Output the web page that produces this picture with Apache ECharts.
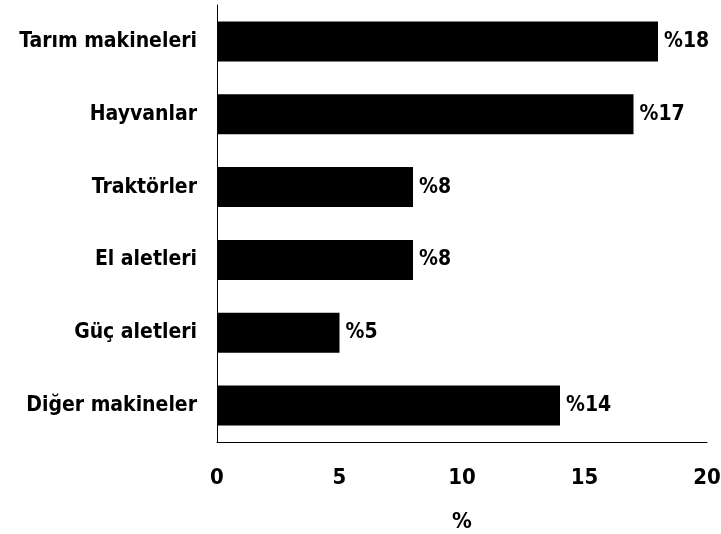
<!DOCTYPE html>
<html><head><meta charset="utf-8">
<script src="https://cdn.jsdelivr.net/npm/echarts@6/dist/echarts.min.js"></script>
<style>html,body{margin:0;padding:0;background:#fff}#c{width:721px;height:534px}</style>
</head><body><div id="c"></div>
<script>
const categories = ["Tarım makineleri","Hayvanlar","Traktörler","El aletleri","Güç aletleri","Diğer makineler"];
const values = [18,17,8,8,5,14];
const xTicks = [0,5,10,15,20];
const FONT = '"DejaVu Sans Condensed","Liberation Sans Narrow",sans-serif';
const chart = echarts.init(document.getElementById('c'));
chart.setOption({
  animation:false,
  backgroundColor:'#fff',
  grid:{left:217,right:14,top:5,bottom:92,containLabel:false,outerBoundsMode:'none'},
  xAxis:{type:'value',min:xTicks[0],max:xTicks[xTicks.length-1],interval:5,
    name:'%',nameLocation:'middle',nameGap:69,
    nameTextStyle:{color:'#000',fontFamily:FONT,fontWeight:'bold',fontSize:22},
    axisLine:{show:true,lineStyle:{color:'#000',width:1}},
    axisTick:{show:false},splitLine:{show:false},
    axisLabel:{color:'#000',fontFamily:FONT,fontWeight:'bold',fontSize:22,margin:25}},
  yAxis:{type:'category',data:categories,inverse:true,
    axisLine:{show:true,lineStyle:{color:'#000',width:1}},
    axisTick:{show:false},
    axisLabel:{color:'#000',fontFamily:FONT,fontWeight:'bold',fontSize:21,margin:20}},
  series:[{type:'bar',data:values,barWidth:'55%',
    itemStyle:{color:'#000'},
    label:{show:true,position:'right',distance:6,formatter:p=>'%'+p.value,
      color:'#000',fontFamily:FONT,fontWeight:'bold',fontSize:21}}]
});
</script></body></html>
